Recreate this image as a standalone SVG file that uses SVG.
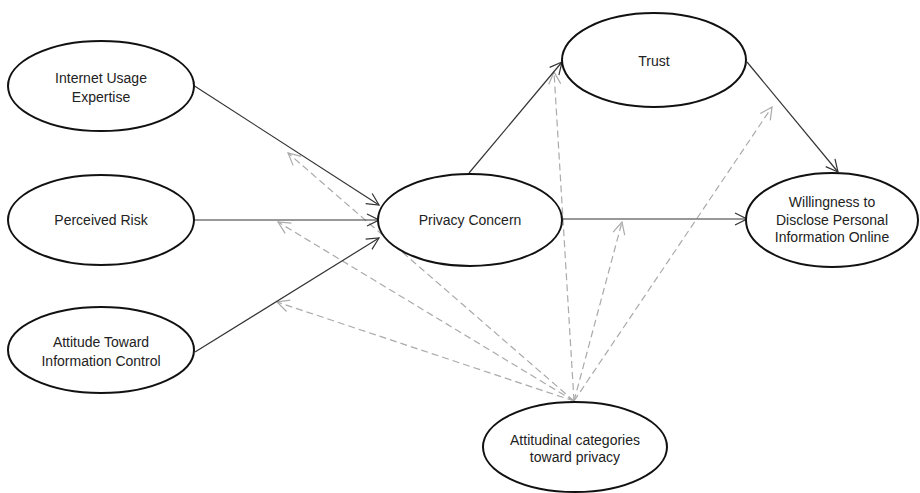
<svg xmlns="http://www.w3.org/2000/svg" width="920" height="493" viewBox="0 0 920 493">
<style>
.node ellipse{fill:#fff;stroke:#111;stroke-width:2}
.node text{font-family:"Liberation Sans",Arial,sans-serif;font-size:14px;fill:#222;text-anchor:middle}
.solid{stroke:#333;stroke-width:1.2;fill:none}
.dash{stroke:#aaa;stroke-width:1.2;fill:none;stroke-dasharray:7 4}
</style>
<defs>
<marker id="ah" markerUnits="userSpaceOnUse" markerWidth="14" markerHeight="14" viewBox="0 0 14 14" refX="13" refY="7" orient="auto">
<path d="M1,1 L13,7 L1,13" fill="none" stroke="#333" stroke-width="1.2"/>
</marker>
<marker id="ahg" markerUnits="userSpaceOnUse" markerWidth="14" markerHeight="14" viewBox="0 0 14 14" refX="13" refY="7" orient="auto">
<path d="M1,1 L13,7 L1,13" fill="none" stroke="#aaa" stroke-width="1.2"/>
</marker>
</defs>
<g id="connectors">
<line class="dash" x1="574" y1="401" x2="288" y2="153" marker-end="url(#ahg)"/>
<line class="dash" x1="574" y1="401" x2="278" y2="222" marker-end="url(#ahg)"/>
<line class="dash" x1="574" y1="401" x2="277" y2="302" marker-end="url(#ahg)"/>
<line class="dash" x1="574" y1="401" x2="554" y2="72" marker-end="url(#ahg)"/>
<line class="dash" x1="574" y1="401" x2="622" y2="222" marker-end="url(#ahg)"/>
<line class="dash" x1="574" y1="401" x2="772" y2="107" marker-end="url(#ahg)"/>
<line class="solid" x1="193" y1="85" x2="379" y2="205" marker-end="url(#ah)"/>
<line class="solid" x1="194" y1="220" x2="379" y2="220" marker-end="url(#ah)"/>
<line class="solid" x1="195" y1="352" x2="379" y2="238" marker-end="url(#ah)"/>
<line class="solid" x1="469" y1="173" x2="562" y2="62" marker-end="url(#ah)"/>
<line class="solid" x1="563" y1="219" x2="747" y2="219" marker-end="url(#ah)"/>
<line class="solid" x1="747" y1="62" x2="838" y2="172" marker-end="url(#ah)"/>
</g>
<g id="internet" class="node"><ellipse cx="101" cy="86" rx="93" ry="45"/><text x="101" y="83">Internet Usage</text><text x="101" y="102">Expertise</text></g>
<g id="risk" class="node"><ellipse cx="101" cy="220" rx="93" ry="45"/><text x="101" y="225">Perceived Risk</text></g>
<g id="attitude" class="node"><ellipse cx="101" cy="350" rx="93" ry="43"/><text x="101" y="347">Attitude Toward</text><text x="101" y="366">Information Control</text></g>
<g id="privacy" class="node"><ellipse cx="470" cy="220" rx="92" ry="46"/><text x="470" y="225">Privacy Concern</text></g>
<g id="trust" class="node"><ellipse cx="654" cy="60" rx="92" ry="47"/><text x="654" y="66">Trust</text></g>
<g id="willingness" class="node"><ellipse cx="832" cy="220" rx="86" ry="47"/><text x="832" y="207">Willingness to</text><text x="832" y="225">Disclose Personal</text><text x="832" y="242">Information Online</text></g>
<g id="attitudinal" class="node"><ellipse cx="575" cy="447" rx="92" ry="45"/><text x="575" y="445">Attitudinal categories</text><text x="575" y="462">toward privacy</text></g>
</svg>
